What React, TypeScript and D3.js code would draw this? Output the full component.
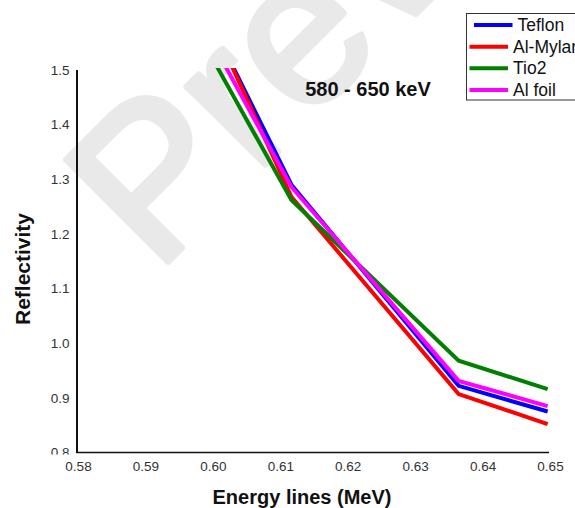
import React from "react";
import * as d3 from "d3";

// Energy lines (MeV) at which reflectivity was evaluated
const energies = [0.6, 0.6118, 0.6366, 0.6498];

// Reflectivity per wrapping material
const teflon = [1.584, 1.29, 0.922, 0.875];
const alMylar = [1.587, 1.268, 0.907, 0.852];
const tio2 = [1.523, 1.262, 0.968, 0.916];
const alFoil = [1.552, 1.286, 0.931, 0.885];

const seriesNames = ["Teflon", "Al-Mylar", "Tio2", "Al foil"];
const seriesColors = ["#0000ff", "#ff0000", "#008000", "#ff00ff"];

const xTicks = [0.58, 0.59, 0.6, 0.61, 0.62, 0.63, 0.64, 0.65];
const yTicks = [0.8, 0.9, 1.0, 1.1, 1.2, 1.3, 1.4, 1.5];

const W = 575;
const H = 508;
const FONT = "'Liberation Sans', Arial, sans-serif";

export default function App() {
  const x = d3.scaleLinear().domain([0.58, 0.65]).range([77, 549]);
  const y = d3.scaleLinear().domain([0.8, 1.5]).range([452.5, 70]);

  const series = [teflon, alMylar, tio2, alFoil];
  const line = d3
    .line<number>()
    .x((_, i) => x(energies[i]))
    .y((d) => y(d));

  const top = y(1.5);
  const bottom = y(0.8);

  return (
    <svg
      width={W}
      height={H}
      viewBox={`0 0 ${W} ${H}`}
      style={{ position: "absolute", left: 0, top: 0, background: "#fff" }}
      fontFamily={FONT}
    >
      <defs>
        <clipPath id="plot-clip">
          <rect x={x(0.58)} y={top - 2} width={x(0.65) - x(0.58) + 2} height={bottom - top + 2} />
        </clipPath>
        <clipPath id="ylabel-clip">
          <rect x={0} y={0} width={x(0.58)} height={bottom + 2} />
        </clipPath>
      </defs>

      {/* faint diagonal watermark */}
      <text
        transform="translate(156,274) rotate(-45)"
        fontSize={210}
        fill="#e9e9e9"
        stroke="#e9e9e9"
        strokeWidth={6}
        strokeLinejoin="round"
      >
        Preview
      </text>

      {/* y tick labels */}
      <g clipPath="url(#ylabel-clip)" fontSize={13.5} fill="#333" textAnchor="end">
        {yTicks.map((t) => (
          <text key={t} x={69.5} y={y(t)} dy="0.35em">
            {t.toFixed(1)}
          </text>
        ))}
      </g>

      {/* x tick labels */}
      <g fontSize={13.5} fill="#333" textAnchor="middle">
        {xTicks.map((t) => (
          <text key={t} x={x(t) + 1.5} y={471}>
            {t.toFixed(2)}
          </text>
        ))}
      </g>

      {/* axes */}
      <line x1={x(0.58)} x2={x(0.58)} y1={top} y2={bottom} stroke="#111" strokeWidth={2} />
      <line x1={x(0.58) - 1} x2={x(0.65)} y1={bottom} y2={bottom} stroke="#111" strokeWidth={1.6} />

      {/* data lines */}
      <g clipPath="url(#plot-clip)" fill="none" strokeWidth={4}>
        {series.map((s, i) => (
          <path key={seriesNames[i]} d={line(s) ?? ""} stroke={seriesColors[i]} strokeLinejoin="miter" />
        ))}
      </g>

      {/* chart title */}
      <text x={368} y={95.5} fontSize={20} fontWeight="bold" textAnchor="middle" fill="#111">
        580 - 650 keV
      </text>

      {/* axis titles */}
      <text
        transform={`translate(22.5,269) rotate(-90)`}
        fontSize={21}
        fontWeight="bold"
        textAnchor="middle"
        dominantBaseline="central"
        fill="#111"
      >
        Reflectivity
      </text>
      <text x={302} y={504} fontSize={20} fontWeight="bold" textAnchor="middle" fill="#111">
        Energy lines (MeV)
      </text>

      {/* legend */}
      <g>
        <rect x={466.5} y={13.5} width={120} height={86.5} fill="#fff" stroke="#333" strokeWidth={1} />
        {seriesNames.map((name, i) => {
          const ly = [25, 46.7, 68.3, 90][i];
          const x0 = i === 0 ? 474 : 469.5;
          return (
            <g key={name}>
              <line x1={x0} x2={x0 + 38.5} y1={ly} y2={ly} stroke={seriesColors[i]} strokeWidth={4} />
              <text x={x0 + 43.5} y={ly} dy="0.35em" fontSize={17.5} fill="#111">
                {name}
              </text>
            </g>
          );
        })}
      </g>
    </svg>
  );
}
